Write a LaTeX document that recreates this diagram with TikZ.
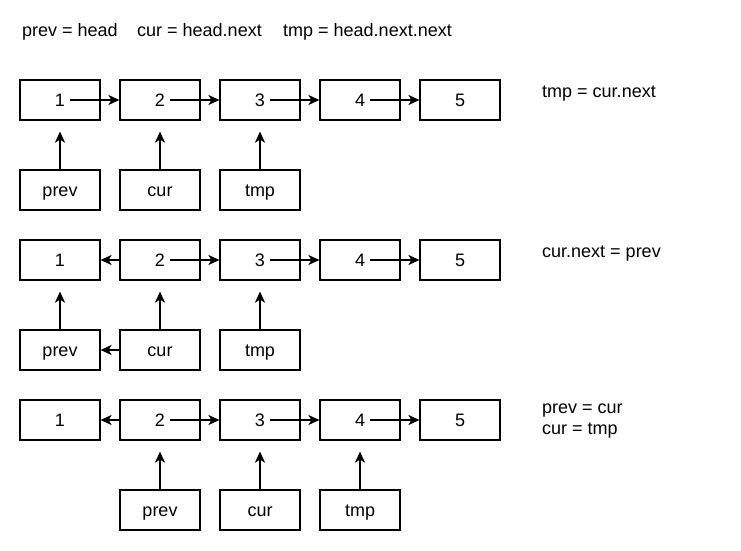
\documentclass[tikz,border=0pt]{standalone}
\usepackage{fontspec}
\setmainfont{Liberation Sans}
\usetikzlibrary{arrows.meta}
\begin{document}
\begin{tikzpicture}[x=1pt,y=-1pt,
  box/.style={draw, line width=1.2pt, minimum width=80pt, minimum height=40pt, inner sep=0pt, text height=13pt, text depth=0pt, font=\fontsize{18}{21}\selectfont},
  lbl/.style={anchor=base west, inner sep=0pt, font=\fontsize{18}{21}\selectfont},
  arr/.style={line width=1.7pt, -{Stealth[length=11pt,width=10pt,inset=3pt]}}]
\useasboundingbox (0,0) rectangle (741,551);
% top labels
\node[lbl] (t1) at (22,37) {prev = head};
\node[lbl] (t2) at (137,37) {cur = head.next};
\node[lbl] (t3) at (283,37) {tmp = head.next.next};
% right labels
\node[lbl] (r1) at (542,97) {tmp = cur.next};
\node[lbl] (r2) at (542,257) {cur.next = prev};
\node[lbl] (r3) at (542,413) {prev = cur};
\node[lbl] (r4) at (542,434.6) {cur = tmp};
% row 1
\foreach \i in {1,...,5} { \node[box] (a\i) at ({60+100*(\i-1)},100) {\i}; }
\node[box] (ap) at (60,190) {prev};
\node[box] (ac) at (160,190) {cur};
\node[box] (at) at (260,190) {tmp};
\draw[arr] ([xshift=10pt]a1.center) -- (a2.west);
\draw[arr] ([xshift=10pt]a2.center) -- (a3.west);
\draw[arr] ([xshift=10pt]a3.center) -- (a4.west);
\draw[arr] ([xshift=10pt]a4.center) -- (a5.west);
\draw[arr] (ap.north) -- ([yshift=-11pt]a1.south);
\draw[arr] (ac.north) -- ([yshift=-11pt]a2.south);
\draw[arr] (at.north) -- ([yshift=-11pt]a3.south);
% row 2
\foreach \i in {1,...,5} { \node[box] (b\i) at ({60+100*(\i-1)},260) {\i}; }
\node[box] (bp) at (60,350) {prev};
\node[box] (bc) at (160,350) {cur};
\node[box] (bt) at (260,350) {tmp};
\draw[arr] (b2.west) -- (b1.east);
\draw[arr] ([xshift=10pt]b2.center) -- (b3.west);
\draw[arr] ([xshift=10pt]b3.center) -- (b4.west);
\draw[arr] ([xshift=10pt]b4.center) -- (b5.west);
\draw[arr] (bp.north) -- ([yshift=-11pt]b1.south);
\draw[arr] (bc.north) -- ([yshift=-11pt]b2.south);
\draw[arr] (bt.north) -- ([yshift=-11pt]b3.south);
\draw[arr] (bc.west) -- (bp.east);
% row 3
\foreach \i in {1,...,5} { \node[box] (c\i) at ({60+100*(\i-1)},420) {\i}; }
\node[box] (cp) at (160,510) {prev};
\node[box] (cc) at (260,510) {cur};
\node[box] (ct) at (360,510) {tmp};
\draw[arr] (c2.west) -- (c1.east);
\draw[arr] ([xshift=10pt]c2.center) -- (c3.west);
\draw[arr] ([xshift=10pt]c3.center) -- (c4.west);
\draw[arr] ([xshift=10pt]c4.center) -- (c5.west);
\draw[arr] (cp.north) -- ([yshift=-11pt]c2.south);
\draw[arr] (cc.north) -- ([yshift=-11pt]c3.south);
\draw[arr] (ct.north) -- ([yshift=-11pt]c4.south);
\end{tikzpicture}
\end{document}
